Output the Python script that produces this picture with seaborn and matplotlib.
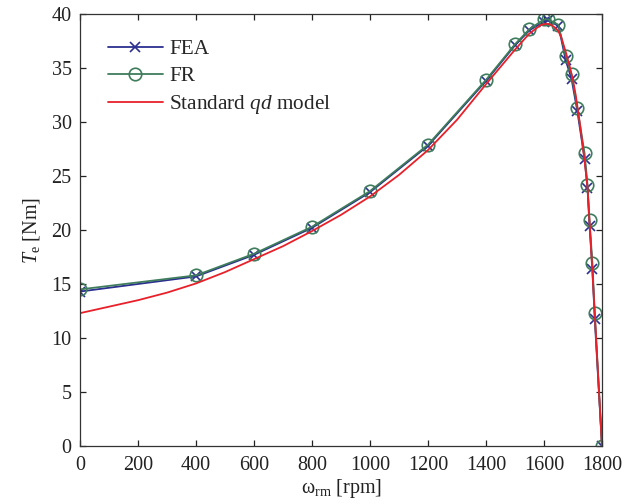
"""Torque-speed curve: FEA vs FR vs standard qd model."""

import matplotlib.pyplot as plt
import seaborn as sns

# measured points (rpm, Nm)
speed_pts = [0, 400, 600, 800, 1000, 1200, 1400, 1500, 1550, 1600, 1615,
             1650, 1675, 1695, 1715, 1740, 1750, 1757, 1767, 1775, 1800]
torque_fea = [14.3, 15.7, 17.7, 20.2, 23.5, 27.8, 33.8, 37.1, 38.5, 39.3, 39.4,
              38.9, 35.7, 34.0, 31.0, 26.6, 23.9, 20.4, 16.4, 11.8, 0.0]
torque_fr = [14.5, 15.8, 17.8, 20.3, 23.6, 27.9, 33.9, 37.2, 38.6, 39.5, 39.5,
             39.0, 36.1, 34.4, 31.3, 27.1, 24.2, 20.9, 16.9, 12.3, 0.0]

# standard qd model curve
speed_qd = [0, 100, 200, 300, 400, 500, 600, 700, 800, 900, 1000, 1100, 1200,
            1300, 1400, 1450, 1500, 1550, 1575, 1590, 1600, 1610, 1625, 1640,
            1650, 1660, 1675, 1690, 1700, 1710, 1725, 1740, 1750, 1760, 1765,
            1775, 1785, 1790, 1800]
torque_qd = [12.3, 12.9, 13.5, 14.2, 15.05, 16.1, 17.3, 18.5, 19.9, 21.4, 23.1,
             25.1, 27.4, 30.2, 33.5, 35.1, 36.7, 38.2, 38.7, 39.0, 39.05, 39.1,
             39.0, 38.7, 38.4, 37.8, 36.5, 35.0, 33.9, 32.4, 29.6, 26.4, 24.0,
             19.4, 17.0, 12.3, 7.4, 4.9, 0.0]

sns.set_theme(style="ticks")
plt.rcParams["font.family"] = ["Liberation Serif", "DejaVu Serif"]
plt.rcParams["mathtext.fontset"] = "custom"
plt.rcParams["mathtext.rm"] = "Liberation Serif"
plt.rcParams["mathtext.it"] = "Liberation Serif:italic"

fea_col = "#2b2f8f"
fr_col = "#3f7d5d"
qd_col = "#e8202a"

fig = plt.figure(figsize=(6.34, 5.04), dpi=100)
ax = fig.add_axes([0.1262, 0.1151, 0.8233, 0.8571])

sns.lineplot(x=speed_pts, y=torque_fea, ax=ax, color=fea_col, marker="x",
             markersize=7, markeredgewidth=1.2, markeredgecolor=fea_col,
             linewidth=1.3, sort=False, errorbar=None, label="FEA")
sns.lineplot(x=speed_pts, y=torque_fr, ax=ax, color=fr_col, marker="o",
             markersize=9, markerfacecolor="none", markeredgewidth=1.2,
             markeredgecolor=fr_col, linewidth=1.3, sort=False,
             errorbar=None, label="FR")
sns.lineplot(x=speed_qd, y=torque_qd, ax=ax, color=qd_col, linewidth=1.3,
             sort=False, errorbar=None, label="Standard $qd$ model")

ax.set_xlim(0, 1800)
ax.set_ylim(0, 40)
ax.set_xticks(range(0, 1801, 200))
ax.set_yticks(range(0, 41, 5))
ax.tick_params(direction="in", top=True, right=True, length=4, width=0.9,
               labelsize=14.5, colors="#222222")
ax.tick_params(axis="x", pad=7)
ax.tick_params(axis="y", pad=6)
for s in ax.spines.values():
    s.set_linewidth(0.9)
    s.set_color("#333333")

ax.set_xlabel("ω$_{\\mathrm{rm}}$ [rpm]", fontsize=14.5, labelpad=2, color="#222222")
ax.set_ylabel("$T_{\\mathrm{e}}$ [Nm]", fontsize=14.5, labelpad=7, color="#222222")

ax.legend(loc="upper left", frameon=False, fontsize=15.3, handlelength=2.6,
          handletextpad=0.3, labelspacing=0.33, borderaxespad=0.6,
          bbox_to_anchor=(0.012, 0.99))

fig.savefig("out.png", dpi=100)
